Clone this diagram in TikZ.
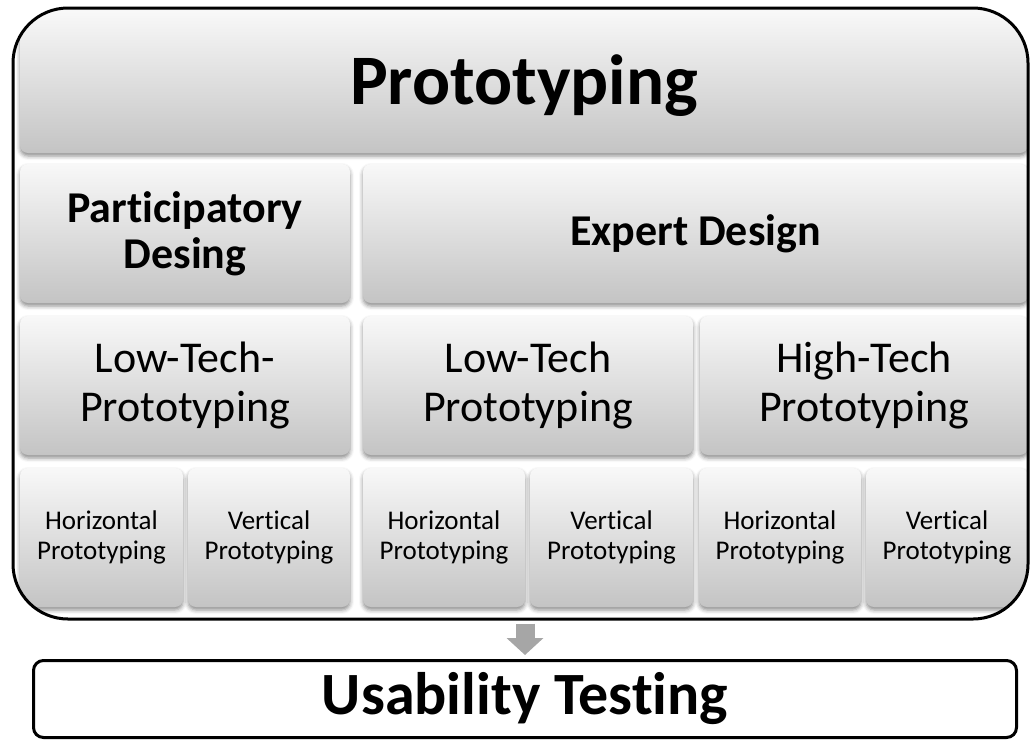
\documentclass[tikz,border=0pt]{standalone}
\usepackage{fontspec}
\setmainfont{Carlito}[RawFeature={-liga;-clig;-calt;-dlig}]
\usetikzlibrary{shadows.blur,arrows.meta}

\definecolor{boxtop}{HTML}{F8F8F8}
\definecolor{boxbot}{HTML}{C4C4C4}
\definecolor{arrowgray}{HTML}{A6A6A6}

\tikzset{
  tile/.style={
    rounded corners=8pt, inner sep=0pt,
    top color=boxtop, bottom color=boxbot,
    blur shadow={shadow xshift=0pt, shadow yshift=-3pt,
                 shadow blur radius=4pt, shadow opacity=45},
    align=center, text=black
  },
  headtext/.style={font=\fontsize{71}{71}\selectfont\bfseries,
                   text height=59pt, text depth=14pt},
  grouptext/.style={font=\fontsize{44}{46}\selectfont\bfseries},
  kindtext/.style={font=\fontsize{44}{49}\selectfont},
  leaftext/.style={font=\fontsize{27}{30}\selectfont},
  frame/.style={draw=black, line width=3pt, inner sep=0pt},
  flow/.style={draw=arrowgray, line width=19pt,
               -{Triangle[width=36pt,length=17pt]}}
}

\begin{document}
\begin{tikzpicture}[x=1pt,y=-1pt]
\useasboundingbox (0,0) rectangle (1030,740);

\begin{scope}
  \clip[rounded corners=52pt] (13.5,8.5) rectangle (1027.5,618.5);

  % top level
  \node[tile, minimum width=1008pt, minimum height=142pt, headtext]
    (proto) at (524,82) {Prototyping};

  % design approaches (kerns keep "t" and "i" as separate glyphs)
  \node[tile, minimum width=330pt, minimum height=139pt, grouptext]
    (part) at (185,233.5) {Part\kern0pt icipatory\\Desing};
  \node[tile, minimum width=665pt, minimum height=139pt, grouptext]
    (expert) at (695.5,233.5) {Expert Design};

  % prototyping technology
  \node[tile, minimum width=330pt, minimum height=139pt, kindtext]
    (lowA) at (185,385.5) {Low-Tech-\\Prototyping};
  \node[tile, minimum width=330pt, minimum height=139pt, kindtext]
    (lowB) at (528,385.5) {Low-Tech\\Prototyping};
  \node[tile, minimum width=328pt, minimum height=139pt, kindtext]
    (high) at (864,385.5) {High-Tech\\Prototyping};

  % prototype dimensions
  \node[tile, minimum width=163pt, minimum height=139pt, leaftext]
    (h1) at (101.5,537.5) {Horizontal\\Prototyping};
  \node[tile, minimum width=162pt, minimum height=139pt, leaftext]
    (v1) at (269,537.5) {Vert\kern0pt ical\\Prototyping};
  \node[tile, minimum width=162pt, minimum height=139pt, leaftext]
    (h2) at (444,537.5) {Horizontal\\Prototyping};
  \node[tile, minimum width=163pt, minimum height=139pt, leaftext]
    (v2) at (611.5,537.5) {Vert\kern0pt ical\\Prototyping};
  \node[tile, minimum width=162pt, minimum height=139pt, leaftext]
    (h3) at (780,537.5) {Horizontal\\Prototyping};
  \node[tile, minimum width=162pt, minimum height=139pt, leaftext]
    (v3) at (947,537.5) {Vert\kern0pt ical\\Prototyping};
\end{scope}

% container around all prototyping boxes
\node[frame, rounded corners=55pt, minimum width=1015pt, minimum height=611pt]
  (outer) at (520.5,313.5) {};

% testing stage
\node[frame, rounded corners=10pt, minimum width=983pt, minimum height=77pt,
      font=\fontsize{60}{60}\selectfont\bfseries]
  (test) at (525,699) {Usability Test\kern0pt ing};

% flow from prototyping to testing
\draw[flow] ([yshift=-3pt]test.north |- outer.south) -- ([yshift=4pt]test.north);
\end{tikzpicture}
\end{document}
